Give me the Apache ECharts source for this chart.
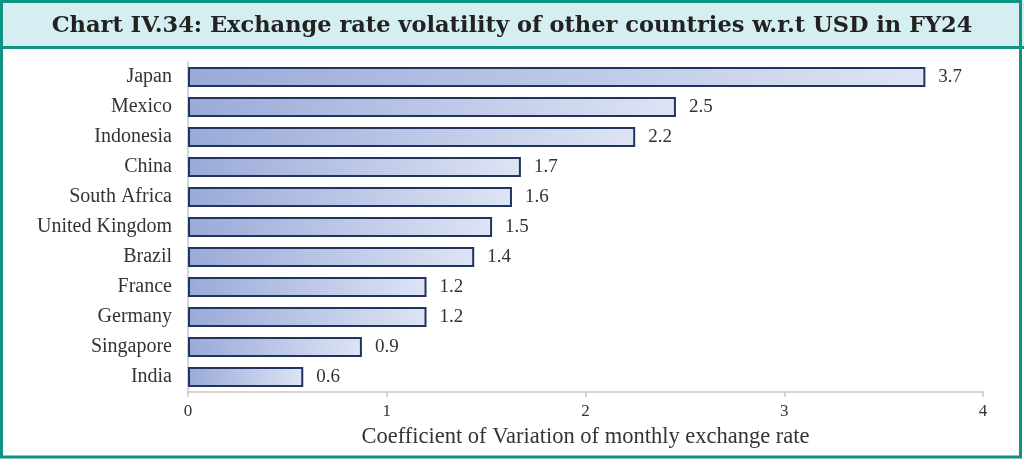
<!DOCTYPE html>
<html>
<head>
<meta charset="utf-8">
<script src="https://cdn.jsdelivr.net/npm/echarts@6/dist/echarts.min.js"></script>
<style>html,body{margin:0;padding:0;background:#fff}#c{width:1024px;height:460px}</style>
</head>
<body>
<div id="c"></div>
<script>
const categories = ["India","Singapore","Germany","France","Brazil","United Kingdom","South Africa","China","Indonesia","Mexico","Japan"];
const values = [0.58,0.875,1.2,1.2,1.44,1.53,1.63,1.675,2.25,2.455,3.71];
const valueLabels = ["0.6","0.9","1.2","1.2","1.4","1.5","1.6","1.7","2.2","2.5","3.7"];
const xTicks = [0,1,2,3,4];
const titleText = "Chart IV.34: Exchange rate volatility of other countries w.r.t USD in FY24";
const axisTitle = "Coefficient of Variation of monthly exchange rate";

const chart = echarts.init(document.getElementById('c'), null, {renderer:'canvas'});
const teal = '#0e9384';
chart.setOption({
  animation:false,
  graphic:[
    {type:'rect', shape:{x:0,y:0,width:1024,height:48}, style:{fill:'#d4eef1'}, z:-10},
    {type:'rect', shape:{x:1.5,y:1.5,width:1019,height:455.5}, style:{fill:'none',stroke:teal,lineWidth:3}, z:10},
    {type:'line', shape:{x1:0,y1:47.5,x2:1024,y2:47.5}, style:{stroke:teal,lineWidth:3}, z:10}
  ],
  title:{
    text:titleText, left:'center', top:10,
    textStyle:{fontFamily:'DejaVu Serif', fontWeight:'bold', fontSize:22.5, color:'#222'}
  },
  grid:{left:188, right:41, top:62, bottom:68, containLabel:false},
  xAxis:{
    type:'value', min:0, max:4, interval:1,
    name:axisTitle, nameLocation:'middle', nameGap:34,
    nameTextStyle:{fontFamily:'Liberation Serif', fontSize:22.5, color:'#333'},
    axisLine:{show:true, lineStyle:{color:'#c8c8c8', width:1.5}},
    axisTick:{show:true, length:5, lineStyle:{color:'#c8c8c8', width:1.5}},
    splitLine:{show:false},
    axisLabel:{fontFamily:'Liberation Serif', fontSize:17, color:'#333', margin:11,
      formatter:v=>xTicks.includes(v)?String(v):''}
  },
  yAxis:{
    type:'category', data:categories,
    axisLine:{show:true, lineStyle:{color:'#c8c8c8', width:1.5}},
    axisTick:{show:false},
    axisLabel:{fontFamily:'Liberation Serif', fontSize:20, color:'#333', margin:16}
  },
  series:[{
    type:'bar', data:values, barWidth:20,
    itemStyle:{
      color:new echarts.graphic.LinearGradient(0,0,1,0,[
        {offset:0,color:'#9aaad8'},{offset:1,color:'#dee4f4'}
      ]),
      borderColor:'#1f3560', borderWidth:2
    },
    label:{show:true, position:'right', distance:13,
      fontFamily:'Liberation Serif', fontSize:19, color:'#333',
      formatter:p=>valueLabels[p.dataIndex]}
  }]
});
</script>
</body>
</html>
